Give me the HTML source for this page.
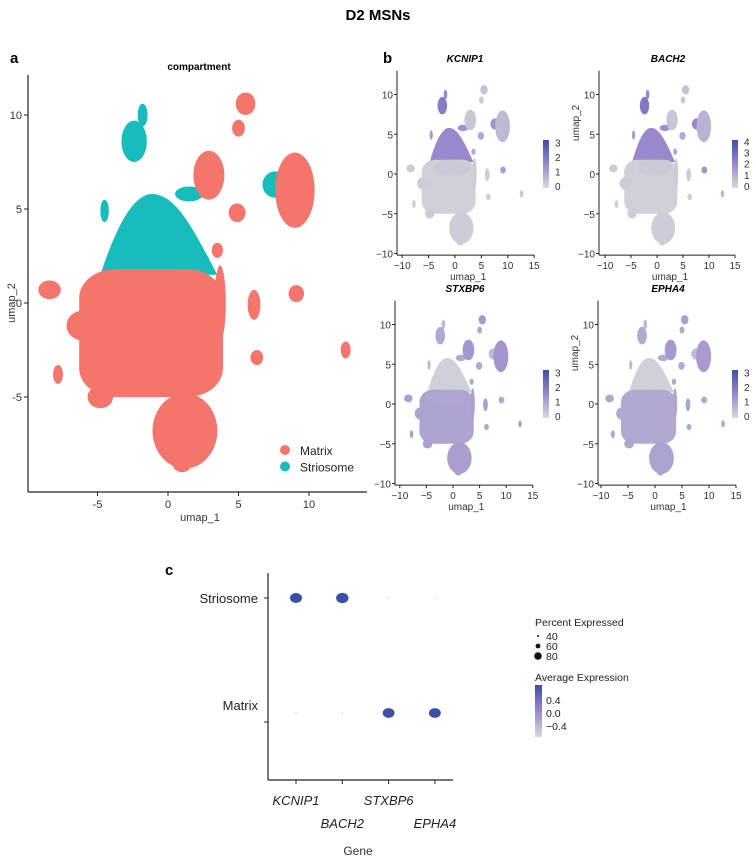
<!DOCTYPE html>
<html><head><meta charset="utf-8">
<style>
body{margin:0;background:#fff;}
svg{display:block;font-family:"Liberation Sans",Arial,sans-serif;}
</style></head>
<body>
<svg id="fig" width="756" height="857" viewBox="0 0 756 857">
<defs>
<linearGradient id="gexp" x1="0" y1="1" x2="0" y2="0">
<stop offset="0" stop-color="#d9d9d9"/><stop offset="0.5" stop-color="#9a88cc"/><stop offset="1" stop-color="#3b4fa6"/>
</linearGradient>
</defs>
<text x="378" y="20" text-anchor="middle" font-size="15" font-weight="bold">D2 MSNs</text>
<text x="10" y="63" font-size="15" font-weight="bold">a</text>
<text x="383" y="63" font-size="15" font-weight="bold">b</text>
<text x="165" y="575" font-size="15" font-weight="bold">c</text>
<g id="pa"></g>
<g id="pb"></g>
<g id="pc"></g>
</svg>
<script>
// ---- UMAP cluster data (umap coordinates) ----
const clusterX  = [-1.2,-0.5,1.2,1.0,-6.0,-8.4,-4.8,-7.8,3.7,-0.65,-2.4,-1.8,-4.5,1.5,5.5,5.0,2.9,9.0,7.6,4.9,6.1,6.3,9.1,12.6,3.5];
const clusterY  = [-1.6,0.8,-6.8,-8.5,-1.2,0.7,-5.0,-3.8,0.0,3.65,8.6,10.0,4.9,5.8,10.6,9.3,6.8,6.0,6.3,4.8,-0.1,-2.9,0.5,-2.5,2.8];
const clusterRX = [5.1,3.5,2.3,0.7,1.2,0.8,0.9,0.35,0.4,4.15,0.9,0.35,0.3,1.0,0.7,0.45,1.1,1.4,0.9,0.6,0.45,0.45,0.55,0.35,0.4];
const clusterRY = [3.4,1.0,2.0,0.5,0.8,0.5,0.6,0.5,2.0,2.15,1.1,0.6,0.6,0.4,0.6,0.45,1.3,2.0,0.7,0.5,0.8,0.4,0.45,0.45,0.4];
const clusterShape = ["r","e","e","e","e","e","e","e","e","t","e","e","e","e","e","e","e","e","e","e","e","e","e","e","e"];
const clusterGroup = [0,0,0,0,0,0,0,0,0,1,1,1,1,1,0,0,0,0,1,0,0,0,0,0,0]; // 0 Matrix, 1 Striosome
const drawOrder = [9,10,11,12,13,18,0,1,2,3,4,5,6,7,8,14,15,16,17,19,20,21,22,23,24];
const groupNames = ["Matrix","Striosome"];
// expression level (0..1 of colour scale) per gene per cluster
const exprKCNIP1 = [0.06,0.1,0.08,0.08,0.08,0.08,0.08,0.08,0.08,0.5,0.6,0.5,0.4,0.45,0.15,0.1,0.12,0.2,0.45,0.3,0.08,0.08,0.35,0.1,0.3];
const exprBACH2  = [0.06,0.1,0.08,0.08,0.08,0.08,0.08,0.08,0.08,0.5,0.62,0.5,0.4,0.45,0.15,0.1,0.12,0.25,0.5,0.3,0.08,0.08,0.45,0.2,0.3];
const exprSTXBP6 = [0.33,0.32,0.36,0.36,0.33,0.35,0.35,0.35,0.35,0.06,0.3,0.2,0.2,0.3,0.4,0.3,0.42,0.42,0.2,0.3,0.35,0.3,0.3,0.3,0.3];
const exprEPHA4  = [0.3,0.3,0.34,0.34,0.3,0.32,0.32,0.32,0.32,0.06,0.3,0.2,0.2,0.3,0.35,0.3,0.4,0.38,0.2,0.3,0.32,0.3,0.3,0.3,0.3];
// panel b
const geneNames = ["KCNIP1","BACH2","STXBP6","EPHA4"];
const geneMax = [3,4,3,3];
const bTicksX = [-10,-5,0,5,10,15];
const bTicksY = [-10,-5,0,5,10];
// panel a
const aTicksX = [-5,0,5,10];
const aTicksY = [-5,0,5,10];
// panel c dot plot
const dotGenes = ["KCNIP1","BACH2","STXBP6","EPHA4"];
const dotGroups = ["Striosome","Matrix"];
const pctStriosome = [85,87,30,30];
const pctMatrix = [30,30,84,84];
const avgStriosome = [0.7,0.7,-0.7,-0.7];
const avgMatrix = [-0.7,-0.7,0.7,0.7];
const pctLegend = [40,60,80];
const avgLegend = [0.4,0.0,-0.4];

const NS="http://www.w3.org/2000/svg";
function mk(tag,attrs,parent,txt){const e=document.createElementNS(NS,tag);for(const k in attrs)e.setAttribute(k,attrs[k]);if(txt!==undefined)e.textContent=txt;parent.appendChild(e);return e;}
function lerp(a,b,t){return a+(b-a)*t;}
function expColor(t){
  const c0=[217,217,217],c1=[154,136,204],c2=[59,79,166];
  let a,b,u; if(t<0.5){a=c0;b=c1;u=t/0.5;}else{a=c1;b=c2;u=(t-0.5)/0.5;}
  return `rgb(${Math.round(lerp(a[0],b[0],u))},${Math.round(lerp(a[1],b[1],u))},${Math.round(lerp(a[2],b[2],u))})`;
}
function drawClusters(g,sx,sy,kx,ky,colorFn){
  drawOrder.forEach(i=>{
    const cx=sx(clusterX[i]),cy=sy(clusterY[i]),rx=Math.abs(clusterRX[i]*kx),ry=Math.abs(clusterRY[i]*ky),c=colorFn(i);
    let e;
    if(clusterShape[i]==="r"){
      e=mk('rect',{x:cx-rx,y:cy-ry,width:2*rx,height:2*ry,rx:rx*0.5,ry:ry*0.45,fill:c},g);
    }else if(clusterShape[i]==="t"){
      e=mk('path',{d:`M${cx-rx},${cy+ry} C${cx-rx*0.75},${cy-ry*0.1} ${cx-rx*0.45},${cy-ry} ${cx-rx*0.12},${cy-ry} C${cx+rx*0.3},${cy-ry} ${cx+rx*0.6},${cy-ry*0.1} ${cx+rx},${cy+ry} Z`,fill:c},g);
    }else{
      e=mk('ellipse',{cx:cx,cy:cy,rx:rx,ry:ry,fill:c},g);
    }
    
    
  });
}

// ---------- Panel A ----------
(function(){
  const g=document.getElementById('pa');
  const x0=168,kx=14.1,y0=303,ky=18.8;
  const sx=u=>x0+u*kx, sy=v=>y0-v*ky;
  const col=["#F4756C","#17BDBD"];
  drawClusters(g,sx,sy,kx,ky,i=>col[clusterGroup[i]]);
  mk('line',{x1:28,y1:75,x2:28,y2:492,stroke:'#222','stroke-width':1.2},g);
  mk('line',{x1:28,y1:492,x2:367,y2:492,stroke:'#222','stroke-width':1.2},g);
  aTicksX.forEach(t=>{mk('line',{x1:sx(t),y1:492,x2:sx(t),y2:496,stroke:'#222'},g);
    const tx=mk('text',{x:sx(t),y:508,'text-anchor':'middle','font-size':11,fill:'#333'},g,String(t));
    });
  aTicksY.forEach(t=>{mk('line',{x1:24,y1:sy(t),x2:28,y2:sy(t),stroke:'#222'},g);
    const tx=mk('text',{x:22,y:sy(t)+4,'text-anchor':'end','font-size':11,fill:'#333'},g,String(t));
    });
  mk('text',{x:199,y:70,'text-anchor':'middle','font-size':10,'font-weight':'bold'},g,'compartment');
  mk('text',{x:200,y:521,'text-anchor':'middle','font-size':11,fill:'#333'},g,'umap_1');
  mk('text',{x:15,y:303,'text-anchor':'middle','font-size':11,fill:'#333',transform:'rotate(-90 15 303)'},g,'umap_2');
  groupNames.forEach((n,k)=>{
    const le=mk('g',{},g);
    
    
    mk('circle',{cx:285,cy:450+k*16.5,r:5,fill:col[k]},le);
    mk('text',{x:300,y:455+k*16.5,'font-size':12,fill:'#222'},le,n);
  });
})();

// ---------- Panel B ----------
(function(){
  const g=document.getElementById('pb');
  const exprs=[exprKCNIP1,exprBACH2,exprSTXBP6,exprEPHA4];
  const px0=[455,657,453,655], pkx=[5.28,5.2,5.32,5.4];
  const py0=[174,174,404,404], pky=7.95;
  const axL=[397,599,395,598];
  const titleX=[465,668,465,668], titleY=[62,62,292,292];
  const cbX=[543,732,543,732], cbY=[140,140,370,370];
  geneNames.forEach((gn,p)=>{
    const pg=mk('g',{},g);
    
    
    const sx=u=>px0[p]+u*pkx[p], sy=v=>py0[p]-v*pky;
    drawClusters(pg,sx,sy,pkx[p],pky,i=>expColor(exprs[p][i]));
    const yb=sy(-10.2), yt=sy(13);
    mk('line',{x1:axL[p],y1:yt,x2:axL[p],y2:yb,stroke:'#222','stroke-width':1},pg);
    mk('line',{x1:axL[p],y1:yb,x2:sx(15),y2:yb,stroke:'#222','stroke-width':1},pg);
    bTicksX.forEach(t=>{mk('line',{x1:sx(t),y1:yb,x2:sx(t),y2:yb+3,stroke:'#222'},pg);
      mk('text',{x:sx(t),y:yb+14,'text-anchor':'middle','font-size':10,fill:'#333'},pg,String(t).replace('-','−'));});
    bTicksY.forEach(t=>{mk('line',{x1:axL[p]-3,y1:sy(t),x2:axL[p],y2:sy(t),stroke:'#222'},pg);
      mk('text',{x:axL[p]-4,y:sy(t)+4,'text-anchor':'end','font-size':10,fill:'#333'},pg,String(t).replace('-','−'));});
    mk('text',{x:sx(2.5),y:yb+25,'text-anchor':'middle','font-size':10,fill:'#333'},pg,'umap_1');
    if(p%2===1){const yl=(yt+yb)/2-40;mk('text',{x:axL[p]-20,y:yl,'text-anchor':'middle','font-size':10,fill:'#333',transform:`rotate(-90 ${axL[p]-20} ${yl})`},pg,'umap_2');}
    mk('text',{x:titleX[p],y:titleY[p],'text-anchor':'middle','font-size':10,'font-weight':'bold','font-style':'italic'},pg,gn);
    const cb=mk('rect',{x:cbX[p],y:cbY[p],width:6,height:48,fill:'url(#gexp)'},pg);
    
    for(let v=0;v<=geneMax[p];v++){
      const yy=cbY[p]+48-(v/(geneMax[p]+0.3))*48-2;
      mk('text',{x:cbX[p]+12,y:yy+4,'font-size':10,fill:'#333'},pg,String(v));
    }
  });
})();

// ---------- Panel C ----------
(function(){
  const g=document.getElementById('pc');
  const xPos=i=>296+i*46.3;
  const yRow=[598,713];
  const rScale=p=>p<=30?0.8:1.5+ (p-40)/45*3.5;
  const cScale=a=>expColor((a+0.7)/1.4);
  mk('line',{x1:268,y1:573,x2:268,y2:780,stroke:'#222','stroke-width':1.2},g);
  mk('line',{x1:268,y1:780,x2:453,y2:780,stroke:'#222','stroke-width':1.2},g);
  dotGroups.forEach((n,k)=>{
    const ty=k===0?598:722;
    mk('line',{x1:264,y1:ty,x2:268,y2:ty,stroke:'#222'},g);
    const t=mk('text',{x:258,y:k===0?603:710,'text-anchor':'end','font-size':13,fill:'#222'},g,n);
    
  });
  dotGenes.forEach((gn,i)=>{
    mk('line',{x1:xPos(i),y1:780,x2:xPos(i),y2:784,stroke:'#222'},g);
    const t=mk('text',{x:xPos(i),y:i%2===0?805:828,'text-anchor':'middle','font-size':13,'font-style':'italic',fill:'#222'},g,gn);
    
    [[pctStriosome,avgStriosome],[pctMatrix,avgMatrix]].forEach((arr,k)=>{
      const r=rScale(arr[0][i]);
      const d=mk('ellipse',{cx:xPos(i),cy:yRow[k],rx:r*1.2,ry:r,fill:cScale(arr[1][i])},g);
      
      
    });
  });
  mk('text',{x:358,y:855,'text-anchor':'middle','font-size':12,fill:'#333'},g,'Gene');
  mk('text',{x:535,y:626,'font-size':10.5,fill:'#222'},g,'Percent Expressed');
  pctLegend.forEach((p,k)=>{
    const yy=636+k*10;
    const le=mk('g',{},g);
    
    
    mk('circle',{cx:538,cy:yy,r:1+k*1.4,fill:'#111'},le);
    mk('text',{x:546,y:yy+4,'font-size':10.5,fill:'#222'},le,String(p));
  });
  mk('text',{x:535,y:681,'font-size':10.5,fill:'#222'},g,'Average Expression');
  const cb=mk('rect',{x:535,y:685,width:7,height:52,fill:'url(#gexp)'},g);
  
  avgLegend.forEach((v,k)=>{
    mk('text',{x:546,y:704+k*13,'font-size':10.5,fill:'#222'},g,(v<0?'−':'')+Math.abs(v).toFixed(1));
  });
})();
</script>
</body></html>
